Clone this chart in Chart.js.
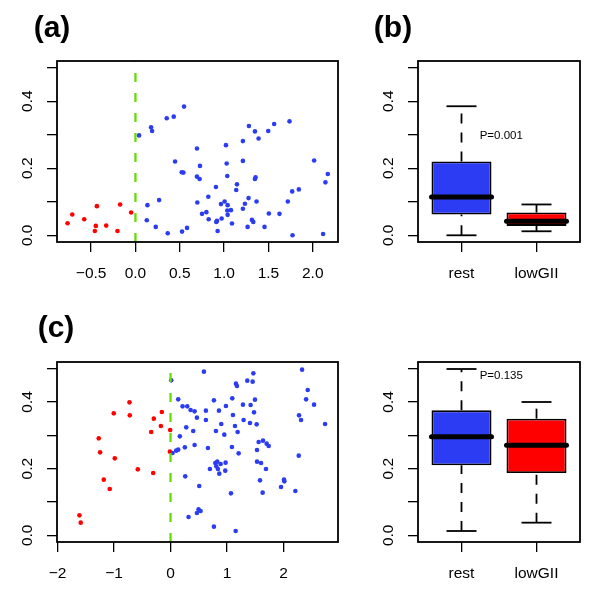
<!DOCTYPE html>
<html>
<head>
<meta charset="utf-8">
<script src="https://cdn.jsdelivr.net/npm/chart.js@4.4.0/dist/chart.umd.min.js"></script>
<style>
  html, body { margin: 0; padding: 0; background: #fff; }
  #wrap { position: relative; width: 600px; height: 600px; }
  canvas { position: absolute; }
</style>
</head>
<body>
<div id="wrap">
  <canvas id="panelA" width="360" height="300" style="left:0;top:0;width:360px;height:300px"></canvas>
  <canvas id="panelB" width="240" height="300" style="left:360px;top:0;width:240px;height:300px"></canvas>
  <canvas id="panelC" width="360" height="300" style="left:0;top:300px;width:360px;height:300px"></canvas>
  <canvas id="panelD" width="240" height="300" style="left:360px;top:300px;width:240px;height:300px"></canvas>
</div>
<script>
// panel (a): GII score vs value
var aRedX = [-0.766, -0.713, -0.578, -0.435, -0.447, -0.458, -0.330, -0.203, -0.173, -0.049];
var aRedY = [0.036, 0.062, 0.048, 0.087, 0.028, 0.013, 0.029, 0.013, 0.092, 0.068];
var aBlueX = [0.041,0.128,0.135,0.176,0.188,0.229,0.267,0.353,0.364,0.432,
  0.447,0.522,0.541,0.526,0.548,0.582,0.694,0.728,0.694,0.724,
  0.698,0.751,0.800,0.822,0.826,0.908,0.912,0.920,0.927,0.965,
  0.972,1.006,1.021,1.029,1.036,1.040,1.036,1.040,1.077,1.089,
  1.145,1.137,1.212,1.212,1.212,1.235,1.280,1.276,1.265,1.314,
  1.329,1.348,1.348,1.355,1.366,1.389,1.456,1.498,1.505,1.565,
  1.625,1.719,1.738,1.768,1.772,1.843,2.016,2.117,2.143,2.170];
var aBlueY = [0.298,0.045,0.090,0.322,0.311,0.025,0.105,0.349,0.006,0.354,
  0.220,0.188,0.187,0.011,0.384,0.022,0.259,0.207,0.175,0.168,
  0.098,0.064,0.069,0.115,0.048,0.144,0.040,0.043,0.013,0.093,
  0.050,0.101,0.269,0.214,0.177,0.090,0.074,0.061,0.075,0.035,
  0.152,0.135,0.281,0.222,0.079,0.094,0.326,0.111,0.025,0.046,
  0.040,0.310,0.168,0.173,0.101,0.289,0.025,0.311,0.065,0.332,
  0.064,0.101,0.340,0.131,0.000,0.137,0.223,0.004,0.158,0.183];

// panel (c)
var cRedX = [-1.613,-1.590,-1.271,-1.247,-1.182,-1.076,-1.005,-0.987,-0.727,-0.721,
  -0.579,-0.307,-0.343,-0.296,-0.171,-0.154,-0.006,-0.012];
var cRedY = [0.060,0.038,0.291,0.249,0.167,0.139,0.366,0.231,0.399,0.360,
  0.198,0.187,0.310,0.350,0.328,0.370,0.316,0.251];
var cBlueX = [0.012,0.035,0.100,0.136,0.136,0.165,0.213,0.260,0.254,0.278,
  0.296,0.319,0.355,0.402,0.426,0.426,0.467,0.467,0.496,0.532,
  0.508,0.591,0.626,0.626,0.662,0.697,0.768,0.768,0.804,0.792,
  0.810,0.827,0.839,0.863,0.857,0.887,0.898,0.952,0.981,0.975,
  0.969,1.070,1.087,1.093,1.105,1.141,1.153,1.158,1.176,1.188,
  1.206,1.282,1.294,1.359,1.407,1.418,1.454,1.466,1.478,1.495,
  1.525,1.531,1.531,1.560,1.602,1.584,1.637,1.631,1.690,1.702,
  1.738,1.956,2.009,2.015,2.210,2.270,2.275,2.311,2.329,2.400,
  2.429,2.541,2.736];
var cBlueY = [0.465,0.247,0.254,0.257,0.408,0.297,0.387,0.177,0.264,0.324,
  0.387,0.055,0.376,0.313,0.271,0.372,0.353,0.067,0.078,0.073,
  0.148,0.491,0.374,0.346,0.262,0.199,0.405,0.026,0.313,0.217,
  0.207,0.221,0.199,0.185,0.374,0.214,0.334,0.302,0.388,0.218,
  0.194,0.126,0.265,0.411,0.361,0.328,0.013,0.455,0.448,0.310,
  0.246,0.392,0.346,0.464,0.337,0.391,0.461,0.486,0.369,0.407,
  0.333,0.256,0.221,0.280,0.217,0.165,0.284,0.128,0.199,0.275,
  0.268,0.145,0.167,0.162,0.133,0.239,0.360,0.346,0.497,0.408,
  0.436,0.392,0.334];

// boxplots (b) and (d)
var boxGroups = ['rest', 'lowGII'];
var bLow = [0.000, 0.012], bQ1 = [0.062, 0.028], bMed = [0.114, 0.042], bQ3 = [0.220, 0.068], bHigh = [0.385, 0.092];
var dLow = [0.013, 0.038], dQ1 = [0.210, 0.187], dMed = [0.296, 0.270], dQ3 = [0.375, 0.350], dHigh = [0.499, 0.400];

// ticks
var aXTicks = [-0.5, 0, 0.5, 1, 1.5, 2];
var aXLabels = ['\u22120.5', '0.0', '0.5', '1.0', '1.5', '2.0'];
var cXTicks = [-2, -1, 0, 1, 2];
var cXLabels = ['\u22122', '\u22121', '0', '1', '2'];
var yTicks = [0, 0.1, 0.2, 0.3, 0.4, 0.5];
var yLabels = ['0.0', '', '0.2', '', '0.4', ''];
var cutoff = 0;

var FONT = "'Liberation Sans', Arial, sans-serif";
var BLUE = '#2b3cf2', RED = '#ff0000', GREEN = '#66dd00';
var yMin = -0.02, yMax = 0.52;

function pts(xs, ys) {
    return xs.map(function(x, i) { return { x: x, y: ys[i] }; });
}

function fixedTicks(values) {
    return function(scale) { scale.ticks = values.map(function(v) { return { value: v }; }); };
}

// frame, panel letter and p-value text
var panelPlugin = {
    id: 'panel',
    afterDraw: function(chart, args, o) {
        var ctx = chart.ctx, a = chart.chartArea;
        ctx.save();
        ctx.strokeStyle = '#000';
        ctx.lineWidth = 1.8;
        ctx.strokeRect(a.left, a.top, a.right - a.left, a.bottom - a.top);
        ctx.fillStyle = '#000';
        if (o.tag) {
            ctx.font = 'bold 30px ' + FONT;
            ctx.textAlign = 'center';
            ctx.textBaseline = 'alphabetic';
            ctx.fillText(o.tag, o.tagX, o.tagY);
        }
        if (o.note) {
            ctx.font = '11.5px ' + FONT;
            ctx.textAlign = 'center';
            ctx.textBaseline = 'middle';
            ctx.fillText(o.note, chart.scales.x.getPixelForValue(o.noteX), chart.scales.y.getPixelForValue(o.noteY));
        }
        ctx.restore();
    }
};

function xAxis(min, max, ticks, labels) {
    return {
        type: 'linear', min: min, max: max, bounds: 'data', offset: false,
        afterBuildTicks: fixedTicks(ticks),
        afterFit: function(s) { s.height = 58; },
        border: { display: false },
        grid: { drawOnChartArea: false, offset: false, tickLength: 10, color: '#000', lineWidth: 1.3 },
        ticks: {
            autoSkip: false, maxRotation: 0, padding: 12, color: '#000',
            font: { family: FONT, size: 15.5 },
            callback: function(v, i) { return labels[i]; }
        }
    };
}

function yAxis(width) {
    return {
        type: 'linear', min: yMin, max: yMax, bounds: 'data',
        afterBuildTicks: fixedTicks(yTicks),
        afterFit: function(s) { s.width = width; },
        border: { display: false },
        grid: { drawOnChartArea: false, tickLength: 10, color: '#000', lineWidth: 1.3 },
        ticks: {
            autoSkip: false, minRotation: 90, maxRotation: 90, crossAlign: 'center', padding: 9, color: '#000',
            font: { family: FONT, size: 15.5 },
            callback: function(v, i) { return yLabels[i]; }
        }
    };
}

function scatterPanel(id, opt) {
    new Chart(document.getElementById(id), {
        type: 'scatter',
        data: {
            datasets: [
                {
                    data: [{ x: cutoff, y: yMin }, { x: cutoff, y: yMax }],
                    showLine: true, borderColor: GREEN, borderWidth: 2.3, borderDash: [9, 11], pointRadius: 0
                },
                { data: pts(opt.redX, opt.redY), backgroundColor: RED, pointRadius: 2.3, borderWidth: 0 },
                { data: pts(opt.blueX, opt.blueY), backgroundColor: BLUE, pointRadius: 2.3, borderWidth: 0 }
            ]
        },
        options: {
            responsive: false, animation: false, events: [],
            layout: { padding: { left: 0, right: 22, top: opt.top, bottom: 0 } },
            plugins: {
                legend: { display: false }, tooltip: { enabled: false },
                panel: { tag: opt.tag, tagX: opt.tagX, tagY: 37 }
            },
            scales: {
                x: xAxis(opt.xMin, opt.xMax, opt.xTicks, opt.xLabels),
                y: yAxis(57)
            }
        },
        plugins: [panelPlugin]
    });
}

function seg(points, width, dash, cap) {
    return {
        type: 'line',
        data: points.map(function(p) { return { x: p[0], y: p[1] }; }),
        borderColor: '#000', borderWidth: width, borderDash: dash || [],
        borderCapStyle: cap || 'butt', pointRadius: 0, order: -1, tension: 0
    };
}

function boxPanel(id, opt) {
    var xs = boxGroups.map(function(g, i) { return i + 1; });
    var sets = [];
    xs.forEach(function(x, i) {
        sets.push(seg([[x - 0.4, opt.med[i]], [x + 0.4, opt.med[i]]], 5, null, 'round'));
        sets.push(seg([[x, opt.q3[i]], [x, opt.high[i]]], 1.8, [10, 9]));
        sets.push(seg([[x, opt.low[i]], [x, opt.q1[i]]], 1.8, [10, 9]));
        sets.push(seg([[x - 0.2, opt.high[i]], [x + 0.2, opt.high[i]]], 1.8));
        sets.push(seg([[x - 0.2, opt.low[i]], [x + 0.2, opt.low[i]]], 1.8));
    });
    sets.push({
        type: 'bar',
        data: xs.map(function(x, i) { return { x: x, y: [opt.q1[i], opt.q3[i]] }; }),
        backgroundColor: [BLUE, RED], borderColor: '#000', borderWidth: 1.8, borderSkipped: false,
        barPercentage: 0.8, categoryPercentage: 1, order: 1
    });
    new Chart(document.getElementById(id), {
        type: 'bar',
        data: { datasets: sets },
        options: {
            responsive: false, animation: false, events: [],
            layout: { padding: { left: 0, right: 20, top: opt.top, bottom: 0 } },
            plugins: {
                legend: { display: false }, tooltip: { enabled: false },
                panel: { tag: opt.tag, tagX: 33, tagY: 37, note: opt.note, noteX: 1.53, noteY: opt.noteY }
            },
            scales: {
                x: xAxis(0.42, 2.58, xs, boxGroups),
                y: yAxis(58)
            }
        },
        plugins: [panelPlugin]
    });
}

scatterPanel('panelA', {
    tag: '(a)', tagX: 52, top: 61,
    xMin: -0.885, xMax: 2.285, xTicks: aXTicks, xLabels: aXLabels,
    redX: aRedX, redY: aRedY, blueX: aBlueX, blueY: aBlueY
});
scatterPanel('panelC', {
    tag: '(c)', tagX: 56, top: 62,
    xMin: -2.01, xMax: 2.965, xTicks: cXTicks, xLabels: cXLabels,
    redX: cRedX, redY: cRedY, blueX: cBlueX, blueY: cBlueY
});
boxPanel('panelB', {
    tag: '(b)', top: 61, note: 'P=0.001', noteY: 0.296,
    low: bLow, q1: bQ1, med: bMed, q3: bQ3, high: bHigh
});
boxPanel('panelD', {
    tag: '', top: 62, note: 'P=0.135', noteY: 0.479,
    low: dLow, q1: dQ1, med: dMed, q3: dQ3, high: dHigh
});
</script>
</body>
</html>
